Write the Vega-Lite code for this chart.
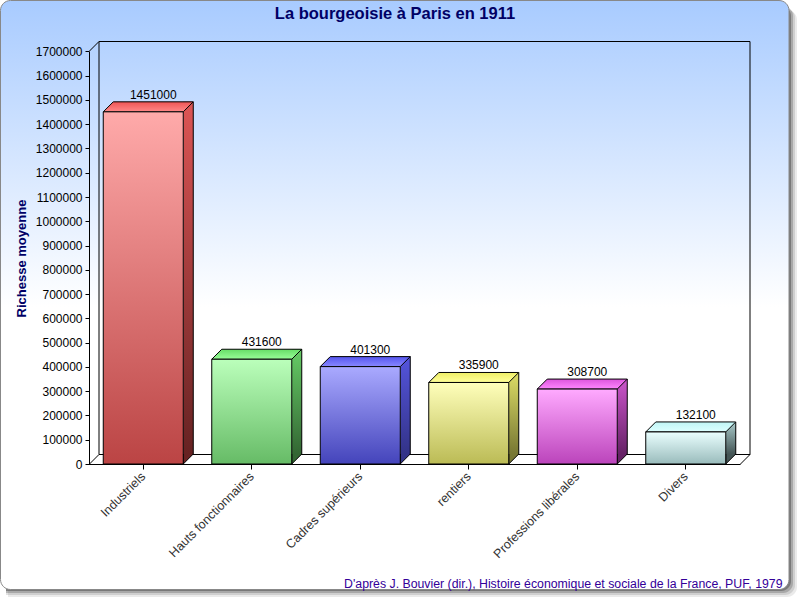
{
"$schema":"https://vega.github.io/schema/vega-lite/v6.json",
"width":800,"height":600,"padding":0,"autosize":{"type":"none"},
"background":"#ffffff",
"view":{"stroke":null},
"config":{"font":"Liberation Sans"},
"title":{"text":"La bourgeoisie à Paris en 1911","fontSize":16.5,"fontWeight":"bold","color":"#000066","font":"Liberation Sans","anchor":"middle","dx":-5,"offset":-37,"baseline":"alphabetic"},
"data":{"values":[
{"categorie":"Industriels","richesse":1451000},
{"categorie":"Hauts fonctionnaires","richesse":431600},
{"categorie":"Cadres supérieurs","richesse":401300},
{"categorie":"rentiers","richesse":335900},
{"categorie":"Professions libérales","richesse":308700},
{"categorie":"Divers","richesse":132100}
]},
"encoding":{
"x":{"field":"categorie","type":"nominal","sort":null,
"scale":{"range":[89,740],"paddingInner":0,"paddingOuter":0},
"axis":{"orient":"bottom","offset":-136,"zindex":1,"labelAngle":-45,"labelAlign":"right","labelBaseline":"middle","labelPadding":5,"labelFontSize":12.5,"labelColor":"#333333","labelFont":"Liberation Sans","tickSize":5,"tickColor":"#000000","domainColor":"#000000","grid":false,"labelOverlap":false,"labelLimit":300,
"title":"D'après J. Bouvier (dir.), Histoire économique et sociale de la France, PUF, 1979","titleFontSize":12.3,"titleFontWeight":"normal","titleColor":"#330099","titleFont":"Liberation Sans","titleAnchor":"end","titleAlign":"right","titleX":782,"titleY":123,"titleBaseline":"alphabetic"}},
"y":{"field":"richesse","type":"quantitative",
"scale":{"domain":[0,1700000],"range":[464,51.4],"nice":false,"zero":true},
"axis":{"orient":"left","offset":-89,"zindex":1,"values":[0,100000,200000,300000,400000,500000,600000,700000,800000,900000,1000000,1100000,1200000,1300000,1400000,1500000,1600000,1700000],"format":"d","labelFontSize":12,"labelColor":"#000000","labelFont":"Liberation Sans","labelPadding":3,"tickSize":4,"tickColor":"#000000","domainColor":"#000000","grid":false,"labelFlush":false,"labelOverlap":false,
"title":"Richesse moyenne","titleFontSize":13,"titleFontWeight":"bold","titleColor":"#000066","titleFont":"Liberation Sans","titleX":-64,"titleY":258,"titleAngle":-90,"titleAlign":"center","titleBaseline":"alphabetic"}}
},
"layer":[
{"transform":[{"filter":"datum.categorie=='Industriels'"}],
 "mark":{"type":"point","filled":true,"opacity":0.1,"size":4,"fill":"#333333","strokeWidth":0,"shape":"M-135.25,-454 L643.75,-454 A10,10 0 0 1 653.75,-444 L653.75,123 A10,10 0 0 1 643.75,133 L-135.25,133 Z"},"encoding":{"y":{"datum":0}}},
{"transform":[{"filter":"datum.categorie=='Industriels'"}],
 "mark":{"type":"point","filled":true,"opacity":0.15,"size":4,"fill":"#333333","strokeWidth":0,"shape":"M-137.25,-456 L641.75,-456 A10,10 0 0 1 651.75,-446 L651.75,121 A10,10 0 0 1 641.75,131 L-137.25,131 Z"},"encoding":{"y":{"datum":0}}},
{"transform":[{"filter":"datum.categorie=='Industriels'"}],
 "mark":{"type":"point","filled":true,"opacity":0.25,"size":4,"fill":"#333333","strokeWidth":0,"shape":"M-137.25,-458 L639.75,-458 A10,10 0 0 1 649.75,-448 L649.75,119 A10,10 0 0 1 639.75,129 L-137.25,129 Z"},"encoding":{"y":{"datum":0}}},
{"transform":[{"filter":"datum.categorie=='Industriels'"}],
 "mark":{"type":"point","filled":true,"opacity":0.4,"size":4,"fill":"#333333","strokeWidth":0,"shape":"M-137.25,-458 L637.75,-458 A10,10 0 0 1 647.75,-448 L647.75,117 A10,10 0 0 1 637.75,127 L-137.25,127 Z"},"encoding":{"y":{"datum":0}}},
{"transform":[{"filter":"datum.categorie=='Industriels'"}],
 "mark":{"type":"point","filled":true,"opacity":1,"size":4,"stroke":"#888888","strokeWidth":1,
 "fill":{"gradient":"linear","x1":0,"y1":0,"x2":0,"y2":1,"stops":[{"offset":0,"color":"#a8cbff"},{"offset":0.52,"color":"#ffffff"},{"offset":1,"color":"#ffffff"}]},
 "shape":"M-132.75,-463.5 L635.75,-463.5 A10,10 0 0 1 645.75,-453.5 L645.75,115.5 A10,10 0 0 1 635.75,125.5 L-132.75,125.5 A10,10 0 0 1 -142.75,115.5 L-142.75,-453.5 A10,10 0 0 1 -132.75,-463.5 Z"},
 "encoding":{"y":{"datum":0}}},
{"transform":[{"filter":"datum.categorie=='Industriels'"}],
 "mark":{"type":"point","filled":false,"opacity":1,"size":4,"stroke":"#000000","strokeWidth":1,
 "shape":"M-44.25,-422.5 L606.75,-422.5 L606.75,-9.5 L-44.25,-9.5 Z M-54.25,-412.5 L-44.25,-422.5 M-54.25,0.5 L-44.25,-9.5 M-54.25,0.5 L596.75,0.5 L606.75,-9.5"},
 "encoding":{"y":{"datum":0}}},
{"mark":{"type":"bar","width":10,"xOffset":45,"yOffset":-10},
 "encoding":{"fill":{"condition":[
 {"test":"datum.categorie=='Industriels'","value":{"gradient":"linear","x1":0,"y1":0,"x2":0,"y2":1,"stops":[{"offset":0,"color":"#dd5555"},{"offset":1,"color":"#662222"}]}},
 {"test":"datum.categorie=='Hauts fonctionnaires'","value":{"gradient":"linear","x1":0,"y1":0,"x2":0,"y2":1,"stops":[{"offset":0,"color":"#66cc66"},{"offset":1,"color":"#336633"}]}},
 {"test":"datum.categorie=='Cadres supérieurs'","value":{"gradient":"linear","x1":0,"y1":0,"x2":0,"y2":1,"stops":[{"offset":0,"color":"#5555dd"},{"offset":1,"color":"#333388"}]}},
 {"test":"datum.categorie=='rentiers'","value":{"gradient":"linear","x1":0,"y1":0,"x2":0,"y2":1,"stops":[{"offset":0,"color":"#dddd66"},{"offset":1,"color":"#777733"}]}},
 {"test":"datum.categorie=='Professions libérales'","value":{"gradient":"linear","x1":0,"y1":0,"x2":0,"y2":1,"stops":[{"offset":0,"color":"#cc55cc"},{"offset":1,"color":"#662266"}]}}],
 "value":{"gradient":"linear","x1":0,"y1":0,"x2":0,"y2":1,"stops":[{"offset":0,"color":"#aacccc"},{"offset":1,"color":"#445555"}]}}}},
{"mark":{"type":"bar","width":1,"xOffset":50,"yOffset":-10,"fill":"#000000"}},
{"mark":{"type":"point","filled":true,"opacity":1,"size":4,"stroke":"#000000","strokeWidth":1,"shape":"M50,-10 L40,0 L40,-10"},
 "encoding":{"y":{"datum":0},"fill":{"field":"categorie","type":"nominal","sort":null,"legend":null,"scale":{"domain":["Industriels","Hauts fonctionnaires","Cadres supérieurs","rentiers","Professions libérales","Divers"],"range":["#662222","#336633","#333388","#777733","#662266","#445555"]}}}},
{"mark":{"type":"point","filled":true,"opacity":1,"size":4,"stroke":"#000000","strokeWidth":1,"shape":"M-40,0 L40,0 L50,-10 L-30,-10 Z"},
 "encoding":{"fill":{"condition":[
 {"test":"datum.categorie=='Industriels'","value":{"gradient":"linear","x1":0,"y1":0,"x2":0,"y2":1,"stops":[{"offset":0,"color":"#ee5555"},{"offset":1,"color":"#ff8888"}]}},
 {"test":"datum.categorie=='Hauts fonctionnaires'","value":{"gradient":"linear","x1":0,"y1":0,"x2":0,"y2":1,"stops":[{"offset":0,"color":"#66dd66"},{"offset":1,"color":"#99ff99"}]}},
 {"test":"datum.categorie=='Cadres supérieurs'","value":{"gradient":"linear","x1":0,"y1":0,"x2":0,"y2":1,"stops":[{"offset":0,"color":"#5555ee"},{"offset":1,"color":"#8888ff"}]}},
 {"test":"datum.categorie=='rentiers'","value":{"gradient":"linear","x1":0,"y1":0,"x2":0,"y2":1,"stops":[{"offset":0,"color":"#eeee66"},{"offset":1,"color":"#ffff99"}]}},
 {"test":"datum.categorie=='Professions libérales'","value":{"gradient":"linear","x1":0,"y1":0,"x2":0,"y2":1,"stops":[{"offset":0,"color":"#dd55dd"},{"offset":1,"color":"#ff88ff"}]}}],
 "value":{"gradient":"linear","x1":0,"y1":0,"x2":0,"y2":1,"stops":[{"offset":0,"color":"#c0f5f5"},{"offset":1,"color":"#ddffff"}]}}}},
{"mark":{"type":"bar","width":80,"stroke":"#000000","strokeWidth":1},
 "encoding":{"fill":{"condition":[
 {"test":"datum.categorie=='Industriels'","value":{"gradient":"linear","x1":0,"y1":0,"x2":0,"y2":1,"stops":[{"offset":0,"color":"#ffaaaa"},{"offset":1,"color":"#bb4444"}]}},
 {"test":"datum.categorie=='Hauts fonctionnaires'","value":{"gradient":"linear","x1":0,"y1":0,"x2":0,"y2":1,"stops":[{"offset":0,"color":"#bbffbb"},{"offset":1,"color":"#66bb66"}]}},
 {"test":"datum.categorie=='Cadres supérieurs'","value":{"gradient":"linear","x1":0,"y1":0,"x2":0,"y2":1,"stops":[{"offset":0,"color":"#aaaaff"},{"offset":1,"color":"#4444bb"}]}},
 {"test":"datum.categorie=='rentiers'","value":{"gradient":"linear","x1":0,"y1":0,"x2":0,"y2":1,"stops":[{"offset":0,"color":"#ffffbb"},{"offset":1,"color":"#bbbb55"}]}},
 {"test":"datum.categorie=='Professions libérales'","value":{"gradient":"linear","x1":0,"y1":0,"x2":0,"y2":1,"stops":[{"offset":0,"color":"#ffaaff"},{"offset":1,"color":"#bb44bb"}]}}],
 "value":{"gradient":"linear","x1":0,"y1":0,"x2":0,"y2":1,"stops":[{"offset":0,"color":"#eaffff"},{"offset":1,"color":"#99bbbb"}]}}}},
{"mark":{"type":"text","dx":10,"dy":-13,"baseline":"alphabetic","fontSize":12,"font":"Liberation Sans","color":"#000000","align":"center"},
 "encoding":{"text":{"field":"richesse","type":"quantitative","format":"d"}}}
]
}
